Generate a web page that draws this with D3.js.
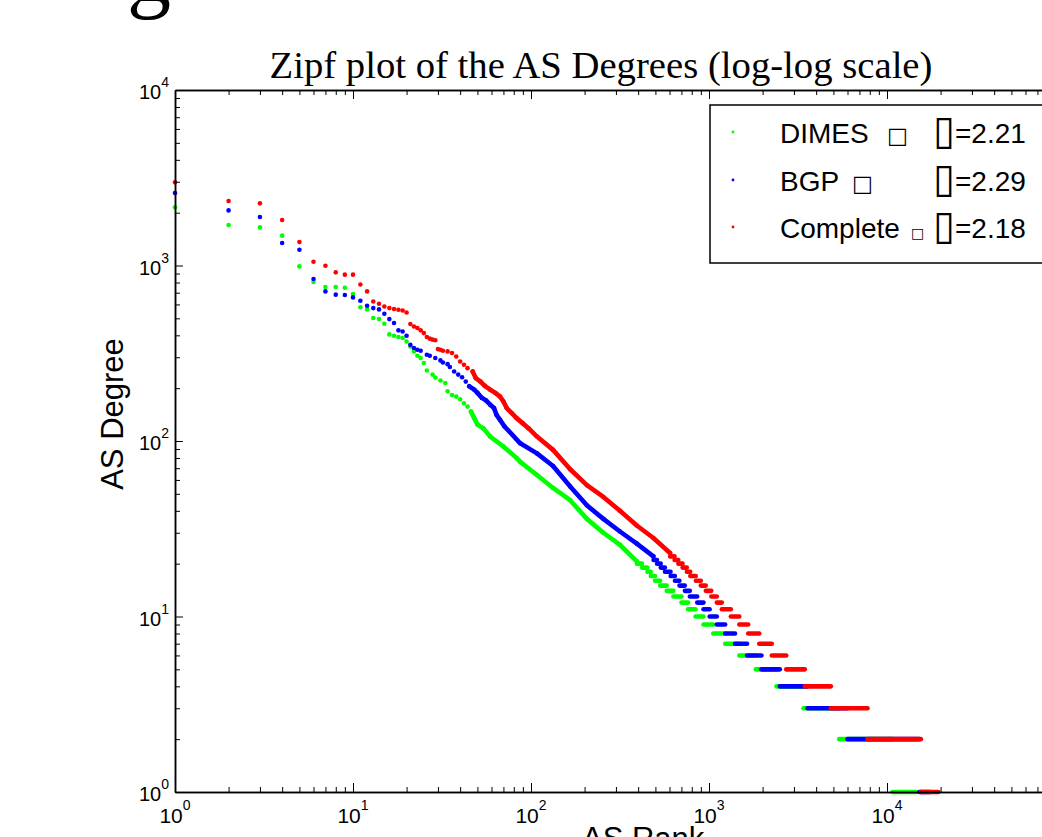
<!DOCTYPE html>
<html>
<head>
<meta charset="utf-8">
<script src="https://cdn.jsdelivr.net/npm/d3@7"></script>
<style>
  body { margin: 0; background: #fff; }
  svg { display: block; }
  text { font-family: "Liberation Sans", Arial, Helvetica, sans-serif; fill: #000; }
</style>
</head>
<body>
<svg id="chart" width="1042" height="837"></svg>
<script>
// values
// single ASes at the top of the ranking: rank and degree
var dimesRank = [1,2,3,4,5,6,7,8,9,10,11,12,13,14,15,16,17,18,19,20,21,22,23,24,25,26,
  28,29,31,33,34,36,38,40,42,44,46,48,50,54,59,70,83,87,108,133,166,206,255,316,393];
var dimesDegree = [2144,1702,1649,1479,988,805,754,754,747,688,578,562,502,495,466,405,398,391,386,369,346,324,306,297,278,252,
  239,230,221,214,192,183,179,173,164,157,147,135,124,118,106,93,80,76,64,54,46,36,30,25.6,20.6];

var bgpRank = [1,2,3,4,5,6,7,8,9,10,11,12,13,14,15,16,17,18,19,20,21,22,23,24,
  26,27,29,31,32,34,35,37,39,41,43,45,48,50,53,56,59,62,64,67,71,87,108,133,166,206,255,316,393,487];
var bgpDegree = [2590,2061,1890,1344,1230,838,712,682,679,658,630,590,572,562,531,495,470,427,421,398,353,339,331,327,
  310,306,297,288,280,274,264,249,239,231,218,205,196,188,176,170,161,154,141,132,121,97,85,72,55,43,36,30.5,26,22];

var completeRank = [1,2,3,4,5,6,7,8,9,10,11,12,13,14,15,16,17,18,19,20,21,22,23,24,25,26,27,28,29,30,31,32,
  34,36,38,40,42,44,47,49,52,55,59,63,67,70,73,78,83,90,97,108,133,166,206,255,316,393,487,604];
var completeDegree = [2978,2333,2260,1817,1361,1051,997,914,887,887,780,712,624,606,584,572,565,560,554,540,
  464,449,440,427,412,391,383,378,375,334,331,327,
  324,317,303,284,272,260,249,228,218,206,196,188,179,168,154,144,135,126,118,106,89,69,56,48,40,33,28,23];

// low degrees: each degree and the last rank that still has it
var dimesRunDegree = [20,19,18,17,16,15,14,13,12,11,10,9,8,7,6,5,4,3,2,1];
var dimesRunEnd = [420,450,470,497,531,578,630,700,762,840,930,1056,1233,1479,1832,2394,3396,5390,10740,14500];

var bgpRunDegree = [21,20,19,18,17,16,15,14,13,12,11,10,9,8,7,6,5,4,3,2,1];
var bgpRunEnd = [510,535,565,608,643,682,731,780,858,931,1008,1106,1232,1400,1635,1970,2500,3575,6000,15170,17500];

var completeRunDegree = [22,21,20,19,18,17,16,15,14,13,12,11,10,9,8,7,6,5,4,3,2,1];
var completeRunEnd = [640,672,710,750,784,843,899,959,1030,1106,1180,1326,1479,1660,1915,2253,2715,3453,4835,7770,15490,19400];

var seriesNames = ['DIMES', 'BGP', 'Complete'];
var seriesMarks = ['\u25A1', '\u25A1', '\u25A1'];
var seriesAlpha = ['2.21', '2.29', '2.18'];
var seriesColours = ['#00ff00', '#0000ff', '#ff0000'];

var xTickExp = [0, 1, 2, 3, 4];
var yTickExp = [0, 1, 2, 3, 4];

var svg = d3.select('#chart');

var x = d3.scaleLog().domain([1, 1e5]).range([175, 1065]);
var y = d3.scaleLog().domain([1, 1e4]).range([792, 90]);

var dotR = 2.3;

// stray glyph from the page above the figure
svg.append('text')
  .attr('x', 127)
  .attr('y', 1)
  .style('font-family', '"Liberation Serif", "Times New Roman", serif')
  .style('font-size', '88px')
  .text('g');

// title
svg.append('text')
  .attr('x', 601)
  .attr('y', 78)
  .attr('text-anchor', 'middle')
  .style('font-family', '"Liberation Serif", "Times New Roman", serif')
  .style('font-size', '38.7px')
  .text('Zipf plot of the AS Degrees (log-log scale)');

// data
var seriesList = [
  { rank: dimesRank, deg: dimesDegree, runDeg: dimesRunDegree, runEnd: dimesRunEnd },
  { rank: bgpRank, deg: bgpDegree, runDeg: bgpRunDegree, runEnd: bgpRunEnd },
  { rank: completeRank, deg: completeDegree, runDeg: completeRunDegree, runEnd: completeRunEnd }
];

var plot = svg.append('g');

seriesList.forEach(function (s, i) {
  var colour = seriesColours[i];
  var pts = s.rank.map(function (r, k) { return { r: r, d: s.deg[k] }; });
  var g = plot.append('g');

  // where the dots run together they form a band
  var band = pts.filter(function (p) { return p.r >= 45; });
  g.append('path')
    .datum(band)
    .attr('fill', 'none')
    .attr('stroke', colour)
    .attr('stroke-width', dotR * 2)
    .attr('stroke-linecap', 'round')
    .attr('stroke-linejoin', 'round')
    .attr('d', d3.line().x(function (p) { return x(p.r); }).y(function (p) { return y(p.d); }));

  g.selectAll('circle')
    .data(pts)
    .enter().append('circle')
    .attr('cx', function (p) { return x(p.r); })
    .attr('cy', function (p) { return y(p.d); })
    .attr('r', dotR)
    .attr('fill', colour);

  // plateaus of equal degree
  var runs = s.runDeg.map(function (d, k) {
    var start = (k === 0 ? s.rank[s.rank.length - 1] : s.runEnd[k - 1]) + 1;
    return { d: d, r0: start, r1: s.runEnd[k] };
  });
  g.selectAll('line')
    .data(runs)
    .enter().append('line')
    .attr('x1', function (p) { return x(p.r0); })
    .attr('x2', function (p) { return x(p.r1); })
    .attr('y1', function (p) { return y(p.d); })
    .attr('y2', function (p) { return y(p.d); })
    .attr('stroke', colour)
    .attr('stroke-width', dotR * 2)
    .attr('stroke-linecap', 'round');
});

// axes, MATLAB style: ticks inside the box
var xMajor = xTickExp.map(function (e) { return Math.pow(10, e); });
var yMajor = yTickExp.map(function (e) { return Math.pow(10, e); });
var xMinor = [], yMinor = [];
[0, 1, 2, 3, 4].forEach(function (e) {
  for (var m = 2; m <= 9; m++) {
    xMinor.push(m * Math.pow(10, e));
    if (e < 4) yMinor.push(m * Math.pow(10, e));
  }
});

function styleAxis(sel) {
  sel.selectAll('path').attr('stroke', '#000').attr('stroke-width', 1.5);
  sel.selectAll('line').attr('stroke', '#000').attr('stroke-width', 1);
  sel.selectAll('text').remove();
}

svg.append('g').attr('transform', 'translate(0,792)')
  .call(d3.axisBottom(x).tickValues(xMinor).tickSize(-5).tickSizeOuter(0)).call(styleAxis);
svg.append('g').attr('transform', 'translate(0,792)')
  .call(d3.axisBottom(x).tickValues(xMajor).tickSize(-9).tickSizeOuter(0)).call(styleAxis);
svg.append('g').attr('transform', 'translate(0,90)')
  .call(d3.axisTop(x).tickValues(xMinor).tickSize(-5).tickSizeOuter(0)).call(styleAxis);
svg.append('g').attr('transform', 'translate(0,90)')
  .call(d3.axisTop(x).tickValues(xMajor).tickSize(-9).tickSizeOuter(0)).call(styleAxis);
svg.append('g').attr('transform', 'translate(175,0)')
  .call(d3.axisLeft(y).tickValues(yMinor).tickSize(-5).tickSizeOuter(0)).call(styleAxis);
svg.append('g').attr('transform', 'translate(175,0)')
  .call(d3.axisLeft(y).tickValues(yMajor).tickSize(-8).tickSizeOuter(0)).call(styleAxis);

// tick labels 10^n
var xLab = svg.append('g').selectAll('text')
  .data(xTickExp)
  .enter().append('text')
  .attr('x', function (e) { return x(Math.pow(10, e)); })
  .attr('y', 823)
  .attr('text-anchor', 'middle')
  .style('font-size', '21px');
xLab.append('tspan').text('10');
xLab.append('tspan').attr('dy', -13).style('font-size', '14px').text(function (e) { return e; });

var yLab = svg.append('g').selectAll('text')
  .data(yTickExp)
  .enter().append('text')
  .attr('x', 169)
  .attr('y', function (e) { return y(Math.pow(10, e)) + 9; })
  .attr('text-anchor', 'end')
  .style('font-size', '20px');
yLab.append('tspan').text('10');
yLab.append('tspan').attr('dy', -12).style('font-size', '14px').text(function (e) { return e; });

// axis titles
svg.append('text')
  .attr('transform', 'translate(123,414) rotate(-90)')
  .attr('text-anchor', 'middle')
  .style('font-size', '31px')
  .text('AS Degree');

svg.append('text')
  .attr('x', 582)
  .attr('y', 849)
  .style('font-size', '31px')
  .text('AS Rank');

// legend
var legend = svg.append('g');
legend.append('rect')
  .attr('x', 710).attr('y', 105)
  .attr('width', 360).attr('height', 158)
  .attr('fill', '#fff')
  .attr('stroke', '#000')
  .attr('stroke-width', 1.5);

var rowBase = [143, 191, 238];
var markX = [887, 852, 911];
var markSize = ['22px', '22px', '14px'];
seriesNames.forEach(function (name, i) {
  legend.append('circle')
    .attr('cx', 733).attr('cy', rowBase[i] - 11)
    .attr('r', 1.4)
    .attr('fill', seriesColours[i]);
  var t = legend.append('text')
    .attr('x', 780).attr('y', rowBase[i])
    .style('font-size', '28px');
  t.append('tspan').text(name + ' ');
  t.append('tspan')
    .attr('x', markX[i])
    .style('font-family', '"DejaVu Sans", sans-serif')
    .style('font-size', markSize[i])
    .style('font-weight', 'bold')
    .text(seriesMarks[i]);
  var a = legend.append('text')
    .attr('x', 933).attr('y', rowBase[i] + 1)
    .style('font-size', '28px');
  a.append('tspan')
    .style('font-family', '"DejaVu Sans", sans-serif')
    .style('font-size', '40px')
    .text('\u25AF');
  a.append('tspan').attr('x', 955).attr('dy', -1).text('=' + seriesAlpha[i]);
});
</script>
</body>
</html>
